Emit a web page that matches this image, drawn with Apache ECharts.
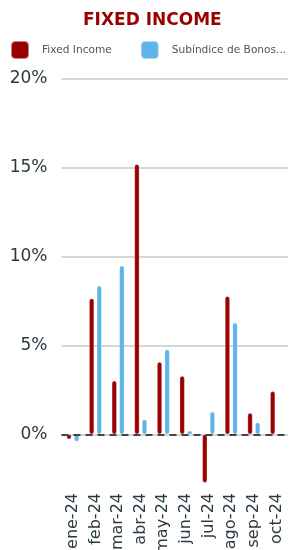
<!DOCTYPE html>
<html>
<head>
<meta charset="utf-8">
<script src="https://cdn.jsdelivr.net/npm/echarts@6/dist/echarts.min.js"></script>
<style>
    html, body { margin: 0; padding: 0; background: #fff; }
    #chart { width: 289px; height: 550px; }
</style>
</head>
<body>
<div id="chart"></div>
<script>
var months = ['ene-24', 'feb-24', 'mar-24', 'abr-24', 'may-24', 'jun-24', 'jul-24', 'ago-24', 'sep-24', 'oct-24'];
var fixedIncome = [-0.28, 7.65, 3.02, 15.19, 4.07, 3.28, -2.72, 7.77, 1.2, 2.42];
var subindice = [-0.4, 8.36, 9.49, 0.84, 4.78, 0.19, 1.27, 6.28, 0.67, 0.03];
var yTicks = [0, 5, 10, 15, 20];

var redColor = '#990000';
var blueColor = '#5eb3e9';
var labelColor = '#2b3a42';

var option = {
    animation: false,
    title: {
        text: 'FIXED INCOME',
        left: 78,
        top: 7,
        textStyle: {
            color: redColor,
            fontFamily: 'DejaVu Sans',
            fontWeight: 'bold',
            fontSize: 17
        }
    },
    legend: {
        left: 10,
        top: 40,
        padding: 0,
        itemWidth: 18,
        itemHeight: 18,
        itemGap: 28,
        icon: 'roundRect',
        textStyle: {
            color: '#555',
            fontFamily: 'DejaVu Sans',
            fontSize: 10.6,
            padding: [0, 0, 0, 8],
            width: 121,
            overflow: 'truncate',
            ellipsis: '...'
        }
    },
    grid: {
        left: 61.5,
        right: 1.2,
        top: 78.8,
        bottom: 65,
        outerBoundsMode: 'none',
        containLabel: false
    },
    xAxis: {
        type: 'category',
        data: months,
        axisLine: {show: false, onZero: false},
        axisTick: {show: false},
        axisLabel: {
            rotate: 90,
            margin: 8,
            color: labelColor,
            fontFamily: 'DejaVu Sans',
            fontSize: 16
        }
    },
    yAxis: {
        type: 'value',
        min: -2.85,
        max: 20,
        axisLine: {show: false},
        axisTick: {show: false, customValues: yTicks},
        axisLabel: {
            customValues: yTicks,
            margin: 14,
            color: labelColor,
            fontFamily: 'DejaVu Sans',
            fontSize: 17,
            formatter: '{value}%'
        },
        splitLine: {
            lineStyle: {color: '#d6d6d6', width: 2}
        }
    },
    series: [
        {
            name: 'Fixed Income',
            type: 'bar',
            data: fixedIncome,
            barWidth: 5,
            barGap: '52%',
            itemStyle: {
                color: redColor,
                borderColor: 'rgba(255,255,255,0.5)',
                borderWidth: 0.6,
                borderRadius: 3
            },
            markLine: {
                silent: true,
                symbol: ['none', 'none'],
                label: {show: false},
                lineStyle: {color: '#444', width: 2, type: [7, 5]},
                data: [{yAxis: 0}]
            }
        },
        {
            name: 'Subíndice de Bonos Corporativos',
            type: 'bar',
            data: subindice,
            barWidth: 5,
            itemStyle: {
                color: blueColor,
                borderColor: 'rgba(255,255,255,0.5)',
                borderWidth: 0.6,
                borderRadius: 3
            }
        }
    ]
};
echarts.init(document.getElementById('chart')).setOption(option);
</script>
</body>
</html>
